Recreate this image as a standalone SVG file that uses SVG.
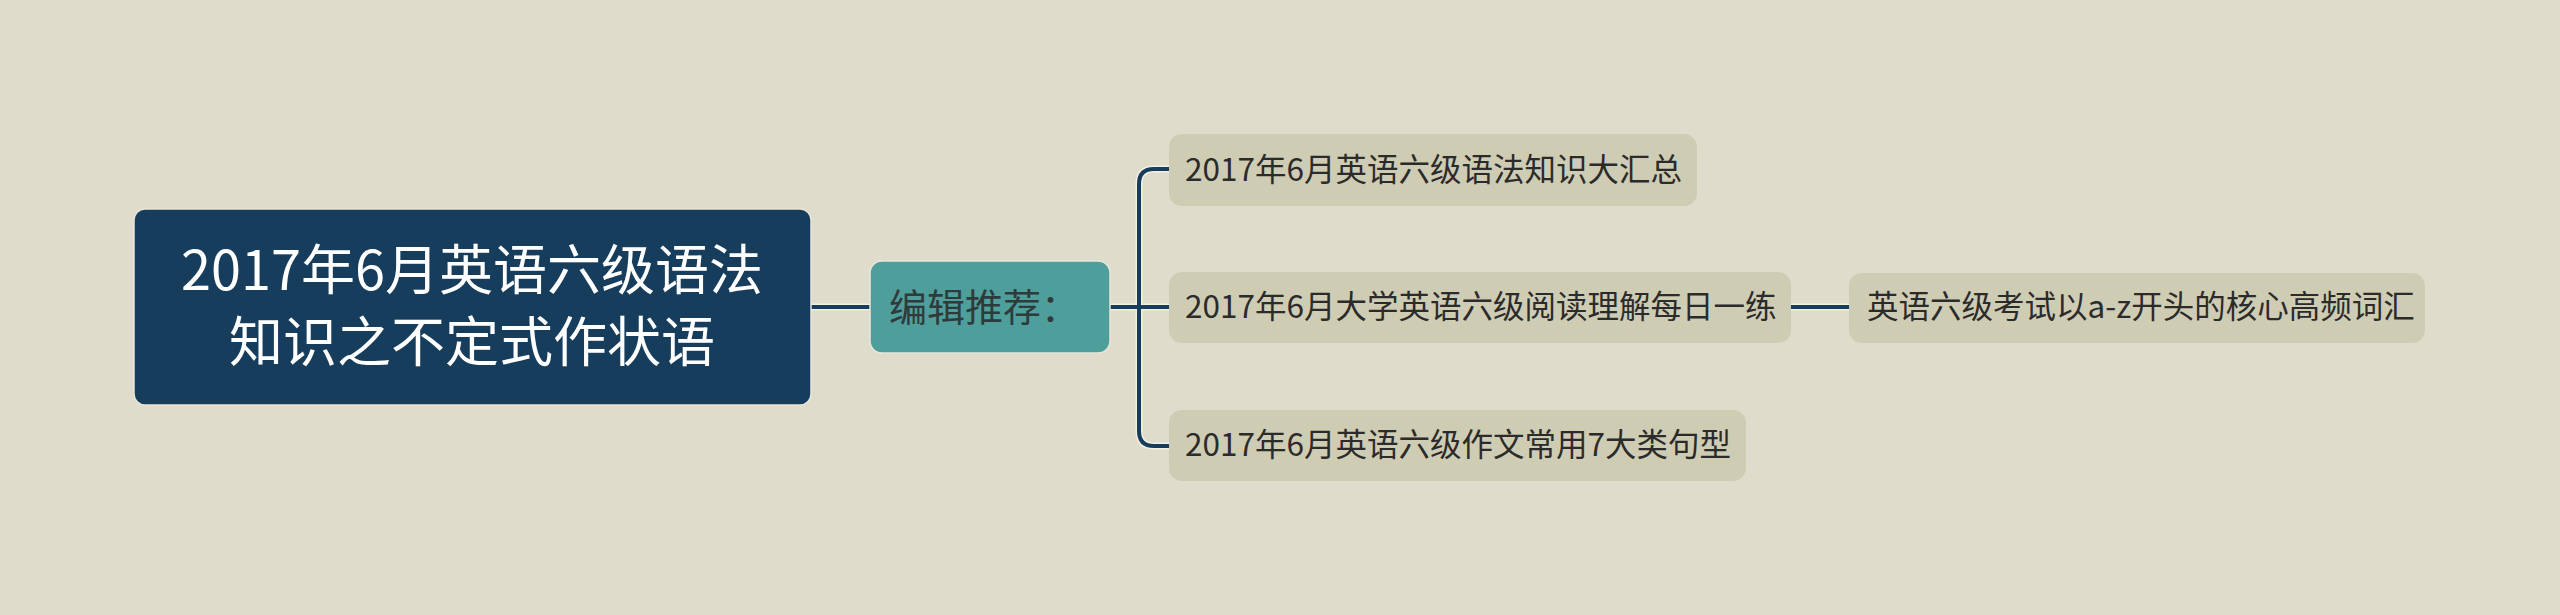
<svg xmlns="http://www.w3.org/2000/svg" width="2560" height="615" viewBox="0 0 2560 615">
<style>
.t{font-family:"Noto Sans CJK SC","Noto Sans",sans-serif;}
.root{fill:#173d5c;stroke:#e8e6d8;stroke-width:1.5;}
.mid{fill:#4e9e9c;stroke:#e8e6d8;stroke-width:1.5;}
.leaf{fill:#cfccb4;}
.halo{fill:none;stroke:#f2f0e4;stroke-width:7;stroke-linecap:butt;}
.ln{fill:none;stroke:#173d5c;stroke-width:4;stroke-linecap:butt;}
.lt{font-size:31.5px;fill:#2b2b2b;}
</style>
<rect width="2560" height="615" fill="#dfdccb"/>
<g id="connectors">
<path class="halo" d="M811 307H870M1110 307H1169M1139 307V184Q1139 169 1154 169H1169M1139 307V431Q1139 446 1154 446H1169M1791 307H1849"/>
<path class="ln" d="M811 307H870M1110 307H1169M1139 307V184Q1139 169 1154 169H1169M1139 307V431Q1139 446 1154 446H1169M1791 307H1849"/>
</g>
<g id="root">
<rect class="root" x="134" y="209" width="677" height="196" rx="11"/>
<text class="t" x="472" y="290" font-size="54" fill="#ffffff" text-anchor="middle">2017年6月英语六级语法</text>
<text class="t" x="472" y="362" font-size="54" fill="#ffffff" text-anchor="middle">知识之不定式作状语</text>
</g>
<g id="mid">
<rect class="mid" x="870" y="261" width="240" height="92" rx="12"/>
<text class="t" x="889" y="321" font-size="38" fill="#2f3b3b">编辑推荐：</text>
</g>
<g id="leaf1">
<rect class="leaf" x="1169" y="134" width="528" height="72" rx="13"/>
<text class="t lt" x="1185" y="181">2017年6月英语六级语法知识大汇总</text>
</g>
<g id="leaf2">
<rect class="leaf" x="1169" y="272" width="622" height="71" rx="13"/>
<text class="t lt" x="1185" y="318">2017年6月大学英语六级阅读理解每日一练</text>
</g>
<g id="leaf3">
<rect class="leaf" x="1169" y="410" width="577" height="71" rx="13"/>
<text class="t lt" x="1185" y="456">2017年6月英语六级作文常用7大类句型</text>
</g>
<g id="leaf4">
<rect class="leaf" x="1849" y="273" width="576" height="70" rx="13"/>
<text class="t lt" x="1867" y="318">英语六级考试以a-z开头的核心高频词汇</text>
</g>
</svg>
